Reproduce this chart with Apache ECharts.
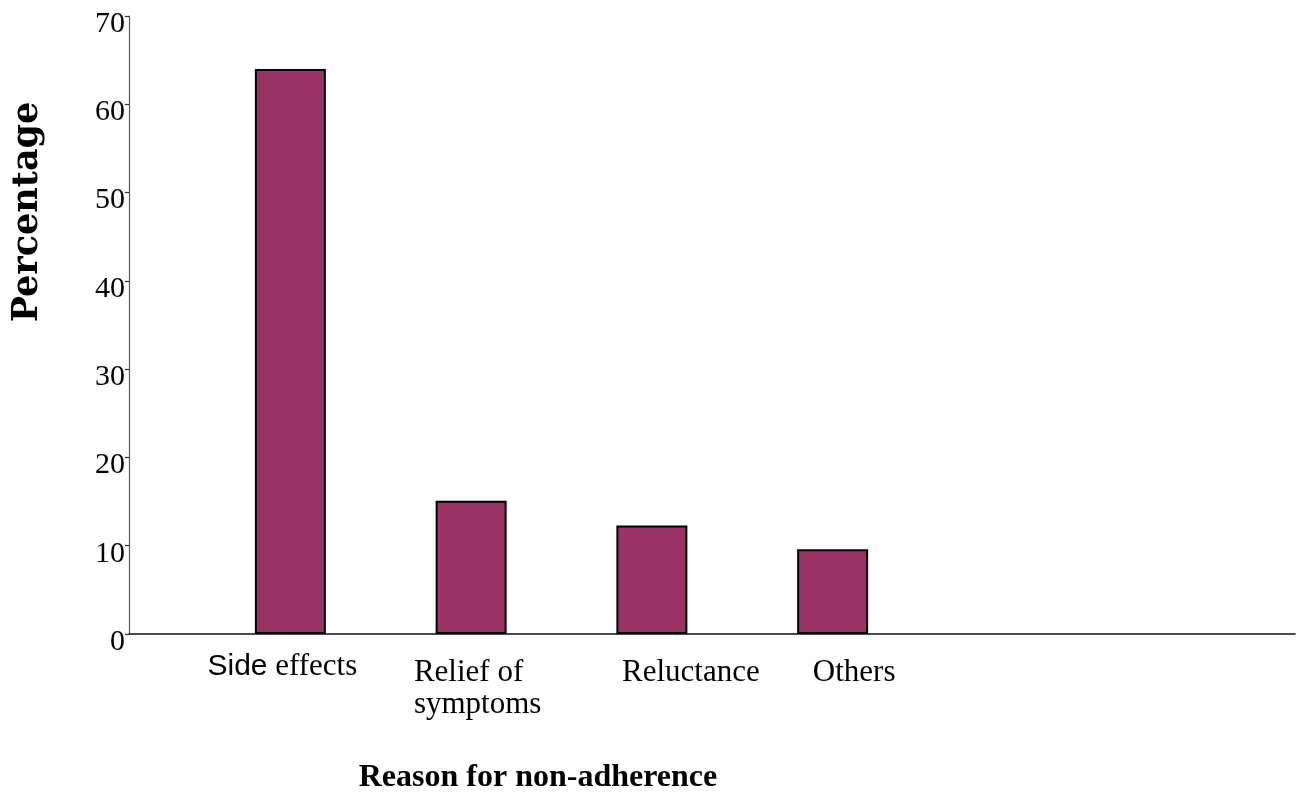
<!DOCTYPE html>
<html>
<head>
<meta charset="utf-8">
<title>Reason for non-adherence</title>
<script src="https://cdn.jsdelivr.net/npm/echarts@6/dist/echarts.min.js"></script>
<style>
  html, body { margin: 0; padding: 0; background: #ffffff; }
  #chart { width: 1297px; height: 795px; }
</style>
</head>
<body>
<div id="chart"></div>
<script>
// Reasons given for not adhering to treatment, as a share of respondents (%)
const categories = ['Side effects', 'Relief of symptoms', 'Reluctance', 'Others'];
const percentages = [64.0, 15.1, 12.3, 9.6];
const yTicks = { min: 0, max: 70, step: 10 };

const SERIF = '"Liberation Serif", "Times New Roman", serif';
const SANS = '"Liberation Sans", Arial, sans-serif';

// Per-category label markup (mixed fonts and individual offsets)
const labelMarkup = {
  'Side effects': '{sa|Side}{se| effects}',
  'Relief of symptoms': '{r1|Relief of}\n{gap| }\n{r2|symptoms}',
  'Reluctance': '{rc|Reluctance}',
  'Others': '{ot|Others}'
};

const chart = echarts.init(document.getElementById('chart'), null, { renderer: 'canvas' });

chart.setOption({
  animation: false,
  backgroundColor: '#ffffff',
  grid: [
    // frame grid: carries the visible axes
    { left: 129, right: 2, top: 16, bottom: 161, outerBoundsMode: 'none' },
    // bar grid: categories laid out under the bars
    { left: 200, width: 723, top: 16, bottom: 161, outerBoundsMode: 'none' }
  ],
  xAxis: [
    {
      type: 'value', gridIndex: 0, min: 0, max: 1,
      axisLine: { show: true, lineStyle: { color: '#111111', width: 1.6 } },
      axisTick: { show: false }, axisLabel: { show: false }, splitLine: { show: false }
    },
    {
      type: 'category', gridIndex: 1, data: categories,
      axisLine: { show: false }, axisTick: { show: false }, splitLine: { show: false },
      axisLabel: {
        interval: 0, margin: 16, color: '#000000',
        formatter: (v) => labelMarkup[v] || v,
        rich: {
          sa: { fontFamily: SANS, fontSize: 30, color: '#000', lineHeight: 33 },
          se: { fontFamily: SERIF, fontSize: 31, color: '#000', lineHeight: 33, padding: [0, 16, 0, 0] },
          r1: { fontFamily: SERIF, fontSize: 31, color: '#000', lineHeight: 33, align: 'left', padding: [12, 0, 0, 13] },
          gap: { fontSize: 4, lineHeight: 5, align: 'left' },
          r2: { fontFamily: SERIF, fontSize: 31, color: '#000', lineHeight: 33, align: 'left', padding: [0, 0, 0, 13] },
          rc: { fontFamily: SERIF, fontSize: 31, color: '#000', lineHeight: 33, padding: [12, 0, 0, 78] },
          ot: { fontFamily: SERIF, fontSize: 31, color: '#000', lineHeight: 33, padding: [12, 0, 0, 43] }
        }
      }
    }
  ],
  yAxis: [
    {
      type: 'value', gridIndex: 0, min: yTicks.min, max: yTicks.max, interval: yTicks.step,
      axisLine: { show: true, lineStyle: { color: '#555555', width: 1.2 } },
      axisTick: { show: true, length: 4, lineStyle: { color: '#333333', width: 1.2 } },
      splitLine: { show: false },
      axisLabel: {
        margin: 4, color: '#000000',
        formatter: (v) => '{t|' + v + '}',
        rich: {
          t: { fontFamily: SERIF, fontSize: 30, color: '#000', lineHeight: 30, padding: [16, 0, 0, 0] }
        }
      }
    },
    {
      type: 'value', gridIndex: 1, min: yTicks.min, max: yTicks.max, interval: yTicks.step,
      show: false
    }
  ],
  series: [
    {
      type: 'bar', xAxisIndex: 1, yAxisIndex: 1,
      data: percentages,
      barWidth: 71,
      itemStyle: { color: '#993366', borderColor: '#000000', borderWidth: 2 }
    }
  ],
  graphic: [
    {
      type: 'text', x: 28, y: 212, rotation: Math.PI / 2,
      style: {
        text: 'Percentage', fill: '#000000',
        fontFamily: '"DejaVu Serif", serif', fontWeight: 'bold', fontSize: 35,
        align: 'center', verticalAlign: 'middle'
      }
    },
    {
      type: 'text', x: 538, y: 778,
      style: {
        text: 'Reason for non-adherence', fill: '#000000',
        fontFamily: SERIF, fontWeight: 'bold', fontSize: 32,
        align: 'center', verticalAlign: 'middle'
      }
    }
  ]
});
</script>
</body>
</html>
